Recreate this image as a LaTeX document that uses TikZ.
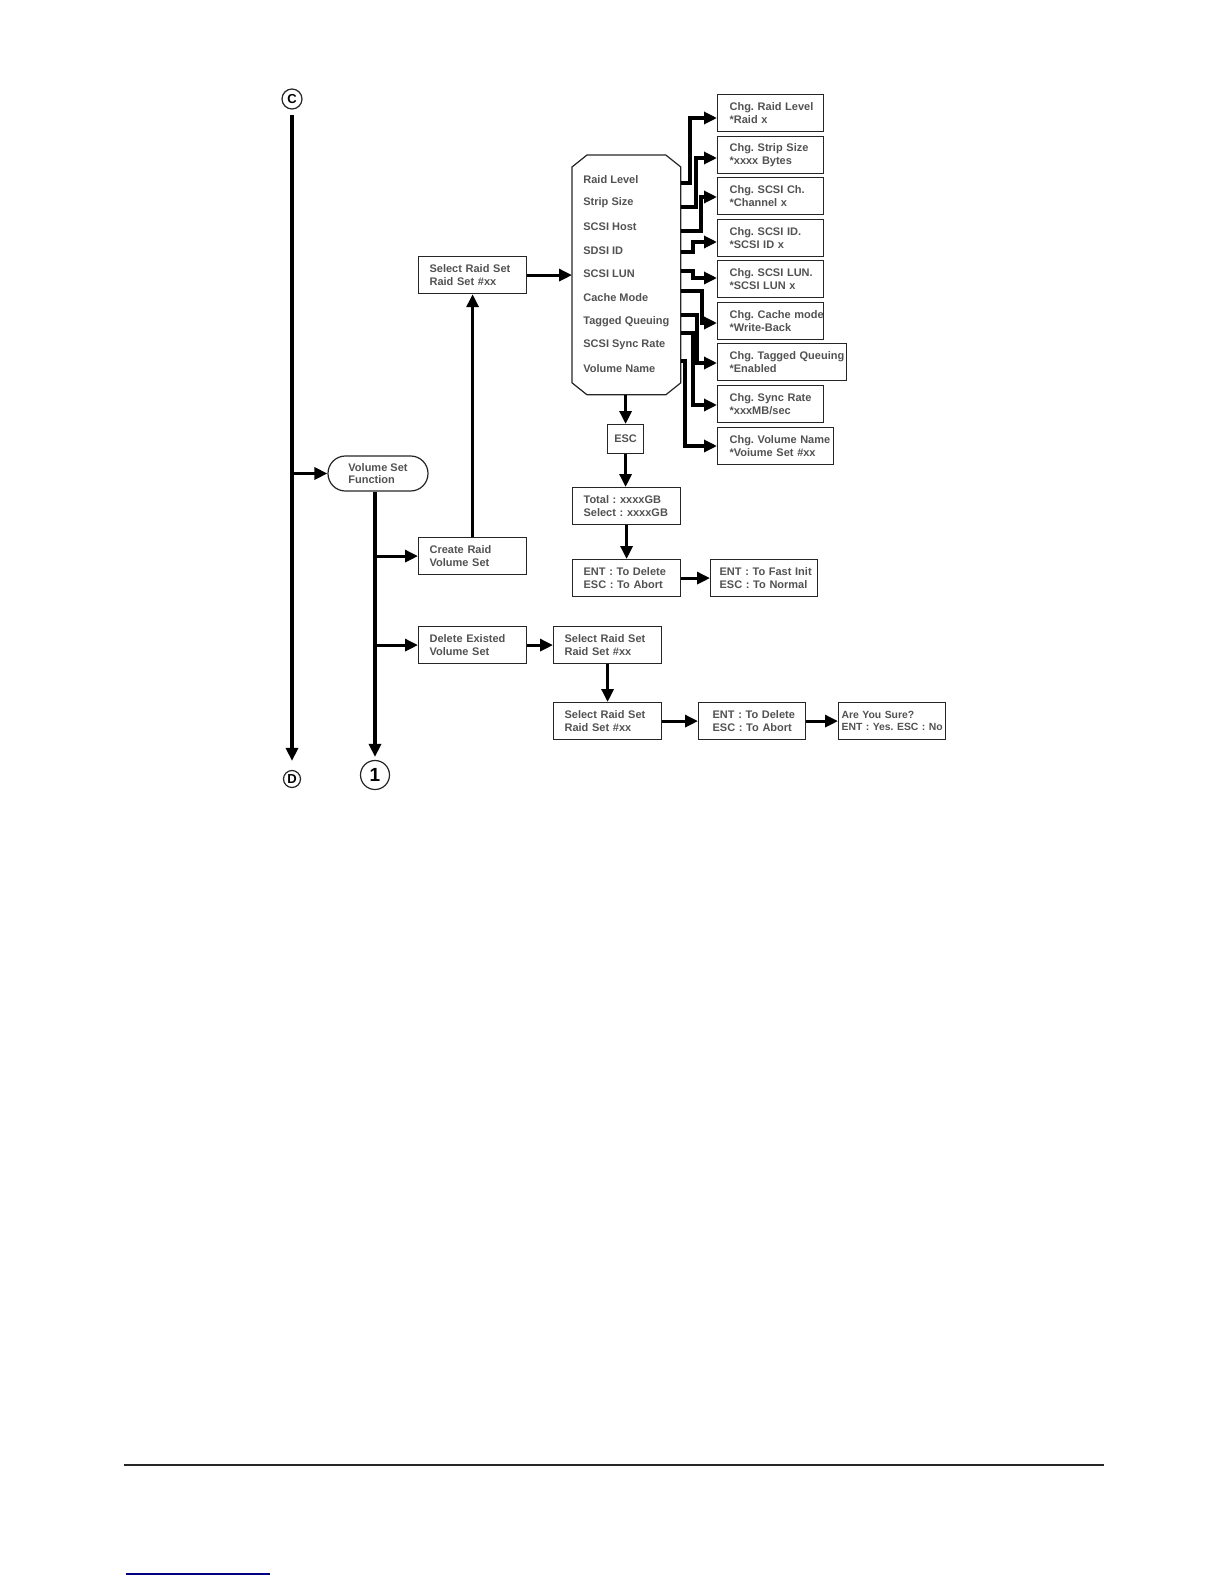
\documentclass[tikz,border=0pt]{standalone}
\usepackage{fontspec}
\setmainfont{Liberation Sans}
\usetikzlibrary{arrows.meta}
\newcommand{\twoline}[2]{\mbox{#1}\\\mbox{#2}}
\tikzset{
  vs font/.style={font=\bfseries\frenchspacing\fontsize{5.5}{6.1}\selectfont,text=black!68},
  vs box/.style={
    draw=black!85,line width=0.6pt,anchor=north west,minimum height=18.5pt,
    inner xsep=5.5pt,inner ysep=0pt,text width=#1,align=left,vs font
  },
  vs box/.default=43pt,
  vs term/.style={
    draw=black!85,line width=0.6pt,rounded corners=8.7pt,minimum width=50pt,
    minimum height=17.5pt,inner sep=0pt,align=left,vs font
  },
  vs item/.style={anchor=west,inner sep=0pt,vs font},
  vs arrow/.style={-{Triangle[length=6.5pt,width=6pt]},line width=1.6pt},
  vs ref/.style={
    circle,draw=black!85,line width=0.6pt,inner sep=0pt,minimum size=#1,
    font=\bfseries\fontsize{6.5}{6.5}\selectfont
  }
}

\begin{document}
\frenchspacing
\begin{tikzpicture}[x=0.5pt,y=-0.5pt]
  \useasboundingbox (0,0) rectangle (1224,1584);
  % page connectors
  \node[vs ref=10pt] (c) at (292,99) {C};
  \node[vs ref=8.5pt] (d) at (292,779) {D};
  \node[vs ref=14.5pt,font=\bfseries\fontsize{9.5}{9.5}\selectfont] (one) at (375,775) {1};
  \draw[vs arrow,shorten <=2.5pt,shorten >=4.5pt] (c) -- (d);

  \node[vs term] (vsf) at (378,473.5) {Volume Set\\Function};
  \draw[vs arrow] (c |- vsf) -- (vsf);
  \draw[vs arrow,shorten >=1.5pt] (vsf.south -| one) -- (one);

  % create raid volume set
  \node[vs box] (sel) at (418,256) {\twoline{Select Raid Set}{Raid Set \#xx}};
  \node[vs box] (cre) at (418,537) {\twoline{Create Raid}{Volume Set}};
  \draw[vs arrow] (one |- cre) -- (cre);
  \draw[vs arrow] (cre) -- (sel);

  \node[minimum width=54pt,minimum height=119.5pt,inner sep=0pt,anchor=north west] (menu) at (572,155) {};
  \draw[draw=black!85,line width=0.6pt]
    ([yshift=-6pt]menu.north west) -- ([xshift=7.5pt]menu.north west)
    -- ([xshift=-7.5pt]menu.north east) -- ([yshift=-6pt]menu.north east)
    -- ([yshift=6pt]menu.south east) -- ([xshift=-7.5pt]menu.south east)
    -- ([xshift=7.5pt]menu.south west) -- ([yshift=6pt]menu.south west) -- cycle;
  \foreach \t [count=\i] in {Raid Level,Strip Size,SCSI Host,SDSI ID,SCSI LUN,
      Cache Mode,Tagged Queuing,SCSI Sync Rate,Volume Name}
    \node[vs item] (m\i) at (583,155.6+23.7*\i) {\t};
  \draw[vs arrow] (sel) -- (menu.west |- sel);

  \foreach \i/\y/\w/\a/\b in {
      1/94/41pt/{Chg. Raid Level}/{*Raid x},
      2/136/41pt/{Chg. Strip Size}/{*xxxx Bytes},
      3/177/41pt/{Chg. SCSI Ch.}/{*Channel x},
      4/219/41pt/{Chg. SCSI ID.}/{*SCSI ID x},
      5/260/41pt/{Chg. SCSI LUN.}/{*SCSI LUN x},
      6/302/41pt/{Chg. Cache mode}/{*Write-Back},
      7/343/52.5pt/{Chg. Tagged Queuing}/{*Enabled},
      8/385/41pt/{Chg. Sync Rate}/{*xxxMB/sec},
      9/427/46pt/{Chg. Volume Name}/{*Voiume Set \#xx}}
    \node[vs box=\w,inner xsep=6pt] (chg\i) at (717,\y) {\twoline{\a}{\b}};
  \foreach \i/\sy/\mx/\ey in {1/183/690/118,2/207/696/158,3/231/701/197,
      4/252/693/242,5/271/693/278,6/291/702/323,7/315/697/363,8/333/693/405,
      9/361/685/446}
    \draw[vs arrow] (menu.east |- 0,\sy) -| (\mx,\ey) -- (chg\i.west |- 0,\ey);

  \node[vs box=12pt,align=center,inner xsep=3pt,minimum height=14.5pt] (esc) at (607,424) {ESC};
  \node[vs box] (tot) at (572,487) {\twoline{Total : xxxxGB}{Select : xxxxGB}};
  \node[vs box] (ent) at (572,559) {\twoline{ENT : To Delete}{ESC : To Abort}};
  \node[vs box=44.5pt,inner xsep=4.5pt] (fast) at (710,559) {\twoline{ENT : To Fast Init}{ESC : To Normal}};
  \draw[vs arrow] (esc |- menu.south) -- (esc);
  \draw[vs arrow] (esc) -- (esc |- tot.north);
  \draw[vs arrow] (tot) -- (ent);
  \draw[vs arrow] (ent) -- (fast);

  % delete existed volume set
  \node[vs box] (del) at (418,626) {\twoline{Delete Existed}{Volume Set}};
  \node[vs box] (sel2) at (553,626) {\twoline{Select Raid Set}{Raid Set \#xx}};
  \node[vs box] (sel3) at (553,702) {\twoline{Select Raid Set}{Raid Set \#xx}};
  \node[vs box=39.5pt,inner xsep=7pt] (ent2) at (698,702) {\twoline{ENT : To Delete}{ESC : To Abort}};
  \node[vs box=50.5pt,inner xsep=1.5pt,font=\bfseries\frenchspacing\fontsize{5.2}{6.1}\selectfont] (sure) at (838,702) {\twoline{Are You Sure?}{ENT : Yes. ESC : No}};
  \draw[vs arrow] (one |- del) -- (del);
  \draw[vs arrow] (del) -- (sel2);
  \draw[vs arrow] (sel2) -- (sel3);
  \draw[vs arrow] (sel3) -- (ent2);
  \draw[vs arrow] (ent2) -- (sure);

  % page footer
  \draw[line width=1pt,black!85] (124,1465) -- (1104,1465);
  \draw[line width=0.6pt,blue!50!black] (126,1574) -- (270,1574);
\end{tikzpicture}
\end{document}
